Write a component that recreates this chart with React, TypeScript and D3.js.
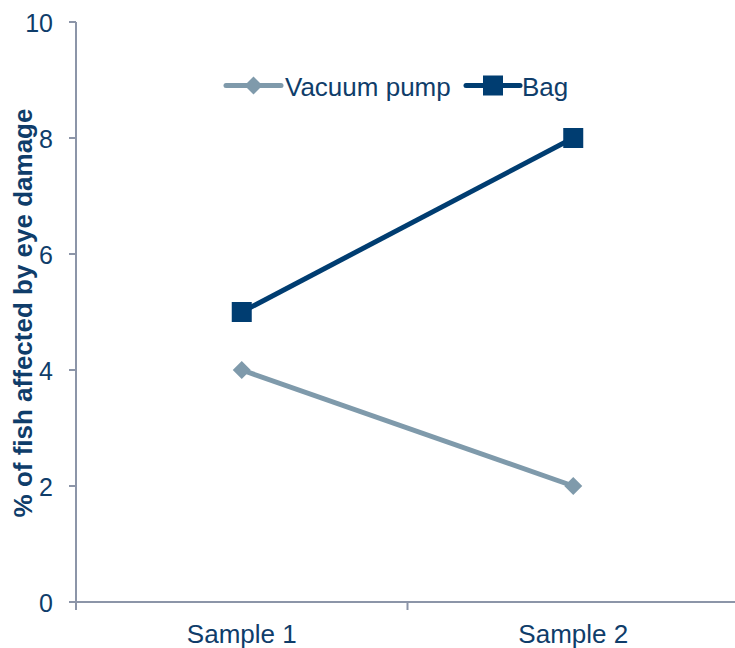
import React from "react";
import * as d3 from "d3";

const categories = ["Sample 1", "Sample 2"];
const vacuumPump = [4, 2];
const bag = [5, 8];
const yTicks = [0, 2, 4, 6, 8, 10];

const W = 735;
const H = 648;
const left = 76;
const right = 739;
const top = 22;
const bottom = 602;
const axisColor = "#8c95a8";
const textColor = "#0f3d6a";
const vacColor = "#7f9aab";
const bagColor = "#003d71";

export default function App() {
  const x = d3.scaleBand<string>().domain(categories).range([left, right]);
  const y = d3.scaleLinear().domain([0, 10]).range([bottom, top]);
  const line = d3
    .line<number>()
    .x((_, i) => (x(categories[i]) as number) + x.bandwidth() / 2)
    .y((d) => y(d));
  const cx = (i: number) => (x(categories[i]) as number) + x.bandwidth() / 2;
  const font = "Liberation Sans, Arial, sans-serif";
  const diamond = (px: number, py: number, r: number) =>
    `M${px},${py - r}L${px + r},${py}L${px},${py + r}L${px - r},${py}Z`;

  return (
    <svg
      width={W}
      height={H}
      style={{ position: "absolute", left: 0, top: 0 }}
      fontFamily={font}
    >
      {/* axes */}
      <line x1={left} x2={left} y1={top} y2={bottom + 8} stroke={axisColor} strokeWidth={2} />
      <line x1={left} x2={W} y1={bottom} y2={bottom} stroke={axisColor} strokeWidth={2} />
      {yTicks.map((t) => (
        <g key={t}>
          <line x1={left - 7} x2={left} y1={y(t)} y2={y(t)} stroke={axisColor} strokeWidth={2} />
          <text
            x={53}
            y={y(t) + 1}
            textAnchor="end"
            dominantBaseline="central"
            fontSize={25}
            fill={textColor}
          >
            {t}
          </text>
        </g>
      ))}
      {categories.map((c, i) => (
        <g key={c}>
          {i > 0 && (
            <line
              x1={x(c) as number}
              x2={x(c) as number}
              y1={bottom}
              y2={bottom + 8}
              stroke={axisColor}
              strokeWidth={2}
            />
          )}
          <text
            x={cx(i)}
            y={634}
            textAnchor="middle"
            dominantBaseline="central"
            fontSize={26}
            fill={textColor}
          >
            {c}
          </text>
        </g>
      ))}
      <text
        transform={`translate(23,${313}) rotate(-90)`}
        textAnchor="middle"
        dominantBaseline="central"
        fontSize={26}
        fontWeight="bold"
        fill={textColor}
      >
        % of fish affected by eye damage
      </text>

      {/* series */}
      <path d={line(vacuumPump) || ""} fill="none" stroke={vacColor} strokeWidth={5} />
      {vacuumPump.map((v, i) => (
        <path key={i} d={diamond(cx(i), y(v), 9)} fill={vacColor} />
      ))}
      <path d={line(bag) || ""} fill="none" stroke={bagColor} strokeWidth={5} />
      {bag.map((v, i) => (
        <rect key={i} x={cx(i) - 10} y={y(v) - 10} width={20} height={20} fill={bagColor} />
      ))}

      {/* legend */}
      <g>
        <line x1={226} x2={281} y1={85.5} y2={85.5} stroke={vacColor} strokeWidth={5} strokeLinecap="round" />
        <path d={diamond(253.5, 85.5, 9)} fill={vacColor} />
        <text x={285} y={87} dominantBaseline="central" fontSize={26} fill={textColor}>
          Vacuum pump
        </text>
        <line x1={466} x2={520} y1={85.5} y2={85.5} stroke={bagColor} strokeWidth={5} strokeLinecap="round" />
        <rect x={483} y={75.5} width={20} height={20} fill={bagColor} />
        <text x={522} y={87} dominantBaseline="central" fontSize={26} fill={textColor}>
          Bag
        </text>
      </g>
    </svg>
  );
}
